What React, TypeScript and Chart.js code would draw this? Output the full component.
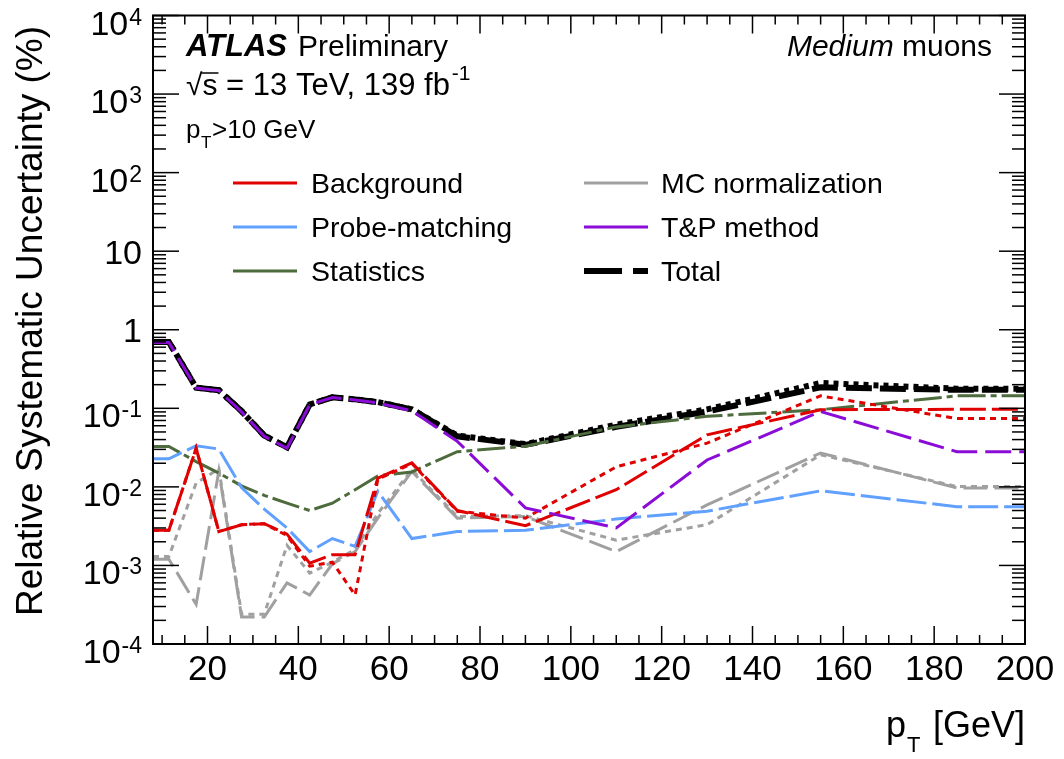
import React, { useEffect, useRef } from "react";
import { Chart, registerables } from "chart.js";

Chart.register(...registerables);

// Bin positions in muon pT (GeV); the first and last entries close the curves at the axis edges
const ptPoints = [8, 11.5, 17.5, 22.5, 27.5, 32.5, 37.5, 42.5, 47.5, 52.5, 57.5, 65, 75, 90, 110, 130, 155, 185, 200];

// Relative systematic uncertainties in percent
const background = [0.0028, 0.0028, 0.031, 0.0027, 0.0033, 0.0034, 0.0025, 0.00107, 0.00137, 0.00137, 0.0129, 0.0202, 0.005, 0.0032, 0.0092, 0.046, 0.096, 0.097, 0.097];
const backgroundAlt = [0.0028, 0.0028, 0.031, 0.0027, 0.0033, 0.0034, 0.0024, 0.00098, 0.0011, 0.00042, 0.0125, 0.0198, 0.0049, 0.004, 0.018, 0.036, 0.144, 0.074, 0.074];
const probeMatching = [0.0228, 0.0228, 0.0333, 0.0303, 0.0098, 0.0052, 0.003, 0.0015, 0.0022, 0.00175, 0.0088, 0.0022, 0.0027, 0.0028, 0.0039, 0.0049, 0.0089, 0.0056, 0.0056];
const statistics = [0.0327, 0.0327, 0.021, 0.015, 0.0103, 0.0078, 0.0062, 0.005, 0.0062, 0.0092, 0.0138, 0.0155, 0.028, 0.033, 0.058, 0.079, 0.096, 0.144, 0.144];
const mcNormalization = [0.0012, 0.0012, 0.00032, 0.016, 0.00022, 0.00022, 0.0006, 0.00042, 0.00105, 0.0015, 0.004, 0.0157, 0.004, 0.0042, 0.0015, 0.0059, 0.027, 0.0097, 0.0097];
const mcNormalizationAlt = [0.0013, 0.0013, 0.0112, 0.017, 0.00024, 0.00024, 0.0018, 0.0008, 0.0011, 0.0016, 0.0046, 0.0165, 0.0042, 0.0043, 0.0021, 0.0033, 0.0256, 0.0101, 0.0101];
const tpMethod = [0.69, 0.69, 0.181, 0.168, 0.09, 0.044, 0.031, 0.111, 0.137, 0.128, 0.117, 0.093, 0.038, 0.0054, 0.003, 0.022, 0.091, 0.028, 0.028];
const total = [0.7, 0.7, 0.183, 0.17, 0.092, 0.045, 0.032, 0.112, 0.138, 0.13, 0.12, 0.097, 0.044, 0.0343, 0.058, 0.091, 0.185, 0.172, 0.172];
const totalAlt = [0.7, 0.7, 0.183, 0.17, 0.092, 0.045, 0.032, 0.112, 0.138, 0.13, 0.12, 0.097, 0.045, 0.035, 0.062, 0.097, 0.21, 0.178, 0.178];

// Axis ticks
const xTickValues = [20, 40, 60, 80, 100, 120, 140, 160, 180, 200];
const xTickLabels = ["20", "40", "60", "80", "100", "120", "140", "160", "180", "200"];
const yTickExponents = [-4, -3, -2, -1, 0, 1, 2, 3, 4];

const legendNames = ["Background", "Probe-matching", "Statistics", "MC normalization", "T&P method", "Total"];

const RED = "#e00000";
const BLUE = "#60a0ff";
const GREEN = "#4d6b3c";
const GREY = "#a0a0a0";
const PURPLE = "#8a0cd6";
const BLACK = "#000000";

const FONT = '"Liberation Sans", Arial, Helvetica, sans-serif';

const series = (values: number[]) => ptPoints.map((x, i) => ({ x, y: values[i] }));

const datasets = [
  { label: "Total", data: series(total), borderColor: BLACK, borderWidth: 6, borderDash: [26, 8], order: 10 },
  { label: "Total (alt)", data: series(totalAlt), borderColor: BLACK, borderWidth: 6, borderDash: [5, 5], order: 9 },
  { label: "MC normalization", data: series(mcNormalization), borderColor: GREY, borderWidth: 3, borderDash: [24, 7], order: 8 },
  { label: "MC normalization (alt)", data: series(mcNormalizationAlt), borderColor: GREY, borderWidth: 3, borderDash: [6, 5], order: 7 },
  { label: "Statistics", data: series(statistics), borderColor: GREEN, borderWidth: 3, borderDash: [28, 5, 6, 5], order: 6 },
  { label: "Probe-matching", data: series(probeMatching), borderColor: BLUE, borderWidth: 3, borderDash: [30, 6], order: 5 },
  { label: "Background (alt)", data: series(backgroundAlt), borderColor: RED, borderWidth: 3, borderDash: [6, 5], order: 4 },
  { label: "Background", data: series(background), borderColor: RED, borderWidth: 3, borderDash: [26, 6], order: 3 },
  { label: "T&P method", data: series(tpMethod), borderColor: PURPLE, borderWidth: 3, borderDash: [26, 8], order: 1 },
].map((d) => ({ ...d, fill: false, pointRadius: 0, tension: 0, borderCapStyle: "butt" as const }));

const legendStyles = [
  { color: RED, width: 3, dash: [] as number[] },
  { color: BLUE, width: 3, dash: [] as number[] },
  { color: GREEN, width: 3, dash: [] as number[] },
  { color: GREY, width: 3, dash: [] as number[] },
  { color: PURPLE, width: 3, dash: [] as number[] },
  { color: BLACK, width: 6, dash: [38, 11] },
];

const frameAndLabels = {
  id: "frameAndLabels",
  afterDraw(chart: any) {
    const ctx: CanvasRenderingContext2D = chart.ctx;
    const { left, right, top, bottom } = chart.chartArea;
    const xs = chart.scales.x;
    const ys = chart.scales.y;
    const seg = (x1: number, y1: number, x2: number, y2: number) => {
      ctx.beginPath();
      ctx.moveTo(x1, y1);
      ctx.lineTo(x2, y2);
      ctx.stroke();
    };

    ctx.save();
    ctx.strokeStyle = "#000";
    ctx.fillStyle = "#000";
    ctx.setLineDash([]);

    // frame
    ctx.lineWidth = 2;
    ctx.strokeRect(left, top, right - left, bottom - top);

    // x ticks on bottom and top edges
    ctx.lineWidth = 1.5;
    for (let v = 10; v <= 200; v += 5) {
      const px = xs.getPixelForValue(v);
      const len = v % 20 === 0 ? 18 : 9;
      seg(px, bottom, px, bottom - len);
      seg(px, top, px, top + len);
    }
    // y ticks on left and right edges
    for (const e of yTickExponents) {
      for (let m = 1; m <= 9; m++) {
        if (e === 4 && m > 1) break;
        const py = ys.getPixelForValue(m * Math.pow(10, e));
        const len = m === 1 ? 26 : 13;
        seg(left, py, left + len, py);
        seg(right, py, right - len, py);
      }
    }

    // x tick labels
    ctx.font = `35px ${FONT}`;
    ctx.textAlign = "center";
    ctx.textBaseline = "alphabetic";
    xTickValues.forEach((v, i) => {
      ctx.fillText(xTickLabels[i], xs.getPixelForValue(v), 680);
    });

    // y tick labels
    const labelRight = 142;
    for (const e of yTickExponents) {
      const py = ys.getPixelForValue(Math.pow(10, e));
      if (e === 0 || e === 1) {
        ctx.font = `34px ${FONT}`;
        ctx.textAlign = "right";
        ctx.fillText(e === 0 ? "1" : "10", labelRight, py + 12.5);
      } else {
        const sup = String(e);
        ctx.font = `23px ${FONT}`;
        const supW = ctx.measureText(sup).width;
        ctx.textAlign = "left";
        ctx.fillText(sup, labelRight - supW, py + 9);
        ctx.font = `34px ${FONT}`;
        ctx.textAlign = "right";
        ctx.fillText("10", labelRight - supW - 1, py + 19);
      }
    }

    // axis titles
    ctx.textAlign = "left";
    ctx.font = `36px ${FONT}`;
    ctx.fillText("p", 886, 737);
    ctx.font = `22px ${FONT}`;
    ctx.fillText("T", 907, 752);
    ctx.font = `36px ${FONT}`;
    ctx.textAlign = "right";
    ctx.fillText("[GeV]", right, 737);

    ctx.save();
    ctx.translate(42, 321);
    ctx.rotate(-Math.PI / 2);
    ctx.textAlign = "center";
    ctx.font = `37px ${FONT}`;
    ctx.fillText("Relative Systematic Uncertainty (%)", 0, 0);
    ctx.restore();

    // labels inside the frame
    ctx.textAlign = "left";
    ctx.font = `italic bold 31px ${FONT}`;
    ctx.fillText("ATLAS", 186, 56);
    ctx.font = `30px ${FONT}`;
    ctx.fillText("Preliminary", 298, 56);

    ctx.textAlign = "right";
    ctx.font = `30px ${FONT}`;
    const muW = ctx.measureText(" muons").width;
    ctx.fillText(" muons", 992, 56);
    ctx.font = `italic 30px ${FONT}`;
    ctx.fillText("Medium", 992 - muW, 56);

    ctx.textAlign = "left";
    ctx.font = `30px ${FONT}`;
    const rootW = ctx.measureText("\u221A").width;
    ctx.fillText("\u221A", 186, 95);
    const sW = ctx.measureText("s").width;
    ctx.fillText("s", 186 + rootW, 95);
    ctx.lineWidth = 1.5;
    seg(186 + rootW - 1, 73, 186 + rootW + sW + 1, 73);
    const rest = " = 13 TeV, 139 fb";
    ctx.font = `31px ${FONT}`;
    ctx.fillText(rest, 186 + rootW + sW, 95);
    const restW = ctx.measureText(rest).width;
    ctx.font = `21px ${FONT}`;
    ctx.fillText("-1", 186 + rootW + sW + restW + 2, 80);

    ctx.font = `26px ${FONT}`;
    ctx.fillText("p", 186, 138);
    ctx.font = `17px ${FONT}`;
    ctx.fillText("T", 201, 148);
    ctx.font = `26px ${FONT}`;
    ctx.fillText(">10 GeV", 212, 138);

    // legend
    const rows = [183, 227, 271];
    const cols = [
      { x0: 233, x1: 297, tx: 311 },
      { x0: 584, x1: 648, tx: 661 },
    ];
    ctx.font = `28.5px ${FONT}`;
    legendNames.forEach((name, i) => {
      const col = cols[Math.floor(i / 3)];
      const y = rows[i % 3];
      const st = legendStyles[i];
      ctx.strokeStyle = st.color;
      ctx.lineWidth = st.width;
      ctx.setLineDash(st.dash);
      seg(col.x0, y, col.x1, y);
      ctx.setLineDash([]);
      ctx.fillStyle = "#000";
      ctx.fillText(name, col.tx, y + 10);
    });

    ctx.restore();
  },
};

export default function App() {
  const canvasRef = useRef<HTMLCanvasElement>(null);

  useEffect(() => {
    const canvas = canvasRef.current;
    if (!canvas) return;
    const chart = new Chart(canvas, {
      type: "line",
      data: { datasets: datasets as any },
      options: {
        responsive: false,
        animation: false,
        devicePixelRatio: 1,
        layout: { padding: { left: 153, right: 39, top: 15.5, bottom: 115 } },
        scales: {
          x: { type: "linear", min: 8, max: 200, display: false },
          y: { type: "logarithmic", min: 1e-4, max: 1e4, display: false },
        },
        plugins: { legend: { display: false }, tooltip: { enabled: false } },
      },
      plugins: [frameAndLabels],
    });
    return () => chart.destroy();
  }, []);

  return (
    <div style={{ position: "fixed", left: 0, top: 0, width: 1064, height: 759, background: "#fff" }}>
      <canvas ref={canvasRef} width={1064} height={759} style={{ display: "block" }} />
    </div>
  );
}
